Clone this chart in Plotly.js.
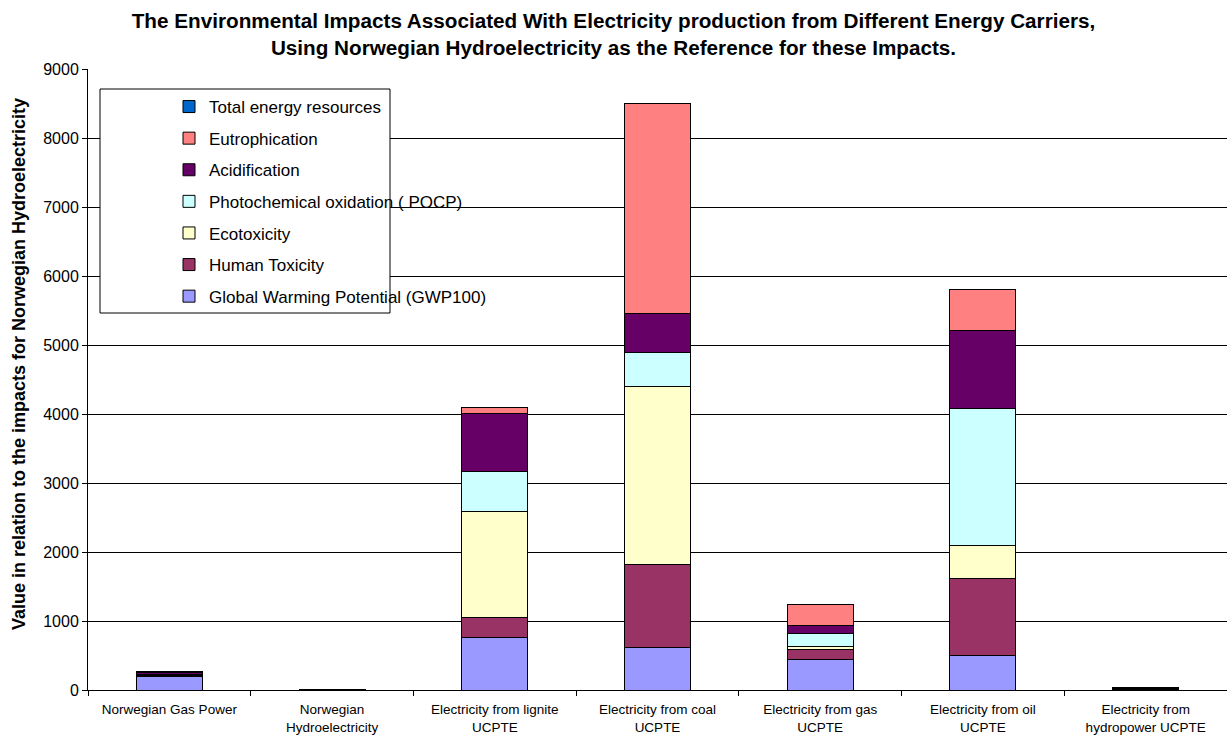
<!DOCTYPE html>
<html>
<head>
<meta charset="utf-8">
<script src="https://cdn.plot.ly/plotly-3.0.1.min.js"></script>
<style>
  html, body { margin: 0; padding: 0; background: #fff; }
  #chart { width: 1227px; height: 735px; }
</style>
</head>
<body>
<div id="chart"></div>
<script>
// Energy carriers compared (x categories)
const categories = [
  "Norwegian Gas Power",
  "Norwegian<br>Hydroelectricity",
  "Electricity from lignite<br>UCPTE",
  "Electricity from coal<br>UCPTE",
  "Electricity from gas<br>UCPTE",
  "Electricity from oil<br>UCPTE",
  "Electricity from<br>hydropower UCPTE"
];

// Impact values relative to Norwegian hydroelectricity, one array per impact category
const gwp100        = [200, 1, 758,  613, 445,  507, 8];
const humanToxicity = [5,   1, 300, 1213, 135, 1111, 6];
const ecotoxicity   = [5,   1, 1536, 2570, 48,  479, 5];
const pocp          = [20,  1, 570,  493, 184, 1990, 4];
const acidification = [20,  1, 846,  570, 116, 1120, 4];
const eutrophication= [10,  1, 81,  3044, 314,  600, 3];
const totalEnergy   = [3,   1, 2,     2,   2,    2, 1];

const seriesNames = [
  "Global Warming Potential (GWP100)",
  "Human Toxicity",
  "Ecotoxicity",
  "Photochemical oxidation ( POCP)",
  "Acidification",
  "Eutrophication",
  "Total energy resources"
];
const seriesValues = [gwp100, humanToxicity, ecotoxicity, pocp, acidification, eutrophication, totalEnergy];
const seriesColors = ["#9999FF", "#993366", "#FFFFCC", "#CCFFFF", "#660066", "#FF8080", "#0066CC"];

const yTicks = [0, 1000, 2000, 3000, 4000, 5000, 6000, 7000, 8000, 9000];
const yTitle = "Value in relation to the impacts for Norwegian Hydroelectricity";

// Stacked from the bottom up; the legend lists the top of the stack first
const traces = seriesNames.map((name, i) => ({
  type: "bar",
  name: name,
  x: categories,
  y: seriesValues[i],
  legendgroup: "g" + i,
  legendrank: 100 - i,
  marker: { color: seriesColors[i], line: { color: "#000000", width: 1 } },
  hoverinfo: "x+y+name"
}));

const fontFamily = "Arial, 'Liberation Sans', sans-serif";

const layout = {
  width: 1227,
  height: 735,
  margin: { l: 88, r: 0, t: 69, b: 45 },
  paper_bgcolor: "#ffffff",
  plot_bgcolor: "#ffffff",
  barmode: "stack",
  bargap: 0.595,
  font: { family: fontFamily, color: "#000000" },
  title: {
    text: "<b>The Environmental Impacts Associated With Electricity production from Different Energy Carriers,<br>Using Norwegian Hydroelectricity as the Reference for these Impacts.</b>",
    font: { size: 20.7, family: fontFamily, color: "#000000" },
    x: 0.5, xref: "container", xanchor: "center",
    y: 1 - 28 / 735, yref: "container", yanchor: "top"
  },
  xaxis: {
    type: "category",
    showline: true, linecolor: "#000000", linewidth: 1,
    ticks: "outside", tickson: "boundaries", ticklen: 5, tickcolor: "#000000",
    ticklabelstandoff: 7,
    tickfont: { size: 13.5, family: fontFamily },
    showgrid: false, fixedrange: true
  },
  yaxis: {
    range: [0, 9000],
    tickvals: yTicks,
    ticktext: yTicks.map(String),
    showline: true, linecolor: "#000000", linewidth: 1,
    ticks: "outside", ticklen: 5, tickcolor: "#000000",
    tickfont: { size: 16, family: fontFamily },
    showgrid: true, gridcolor: "#000000", gridwidth: 1,
    zeroline: false, fixedrange: true
  },
  // Vertical axis caption, placed beside the tick labels
  annotations: [{
    text: "<b>" + yTitle + "</b>",
    textangle: -90,
    xref: "paper", yref: "paper",
    x: (19 - 88) / 1139, xanchor: "center",
    y: (690 - 364) / 621, yanchor: "middle",
    showarrow: false,
    font: { size: 18, family: fontFamily, color: "#000000" }
  }],
  showlegend: true,
  legend: {
    traceorder: "grouped",
    tracegroupgap: 6.5,
    x: (169 - 88) / 1139, xanchor: "left",
    y: (690 - 89) / 621, yanchor: "top",
    bgcolor: "rgba(0,0,0,0)",
    borderwidth: 0,
    font: { size: 17, family: fontFamily }
  },
  shapes: [{
    type: "rect", xref: "paper", yref: "paper",
    x0: (100 - 88) / 1139, x1: (390 - 88) / 1139,
    y0: (690 - 313) / 621, y1: (690 - 89) / 621,
    fillcolor: "#ffffff",
    line: { color: "#000000", width: 1 },
    layer: "above"
  }]
};

Plotly.newPlot("chart", traces, layout, { displayModeBar: false, staticPlot: true });
</script>
</body>
</html>
